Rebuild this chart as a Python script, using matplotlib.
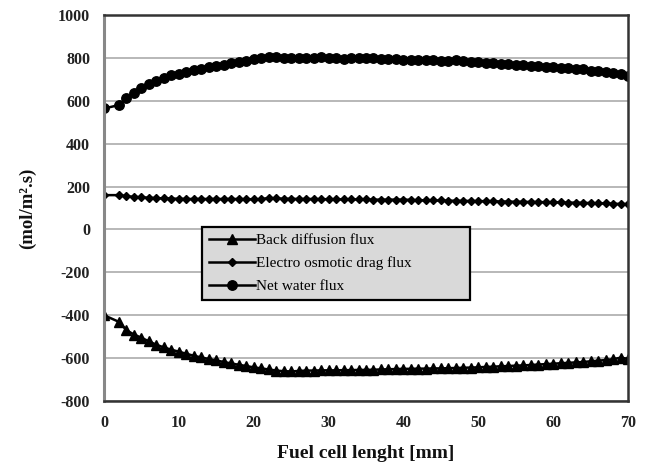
import matplotlib
matplotlib.use("Agg")
import matplotlib.pyplot as plt
from matplotlib.ticker import FixedLocator

plt.rcParams['axes.unicode_minus'] = False

x_mm = [0, 2, 3, 4, 5, 6, 7, 8, 9, 10, 11, 12, 13, 14, 15, 16, 17, 18, 19, 20,
        21, 22, 23, 24, 25, 26, 27, 28, 29, 30, 31, 32, 33, 34, 35, 36, 37, 38, 39, 40,
        41, 42, 43, 44, 45, 46, 47, 48, 49, 50, 51, 52, 53, 54, 55, 56, 57, 58, 59, 60,
        61, 62, 63, 64, 65, 66, 67, 68, 69, 70]

back_diffusion = [-400, -431, -470, -490, -505, -522, -538, -550, -561, -570,
                  -580, -589, -597, -604, -611, -618, -625, -631, -637, -643,
                  -648, -653, -658, -661, -662, -660, -658, -658, -657, -657,
                  -657, -656, -656, -655, -655, -654, -653, -652, -651, -650,
                  -650, -649, -649, -648, -648, -647, -646, -645, -644, -643,
                  -641, -640, -638, -637, -635, -634, -632, -630, -628, -626,
                  -624, -622, -620, -618, -615, -612, -609, -605, -598, -603]

electro_osmotic = [160, 160, 155, 152, 150, 148, 146, 145, 144, 143,
                   142, 142, 142, 142, 142, 142, 142, 142, 141, 141,
                   141, 147, 145, 143, 143, 142, 142, 142, 141, 141,
                   141, 140, 140, 140, 140, 139, 139, 139, 139, 139,
                   138, 136, 136, 135, 135, 134, 134, 133, 133, 132,
                   132, 132, 130, 130, 129, 129, 128, 128, 127, 127,
                   126, 125, 125, 124, 123, 122, 121, 120, 119, 118]

net_water = [564, 580, 612, 636, 660, 676, 690, 706, 718, 727,
             734, 742, 750, 756, 763, 768, 774, 779, 784, 793,
             801, 806, 803, 800, 800, 800, 800, 801, 802, 801,
             798, 797, 798, 799, 799, 798, 795, 794, 793, 792,
             791, 789, 788, 788, 787, 786, 788, 785, 782, 780,
             778, 776, 773, 771, 768, 766, 764, 761, 758, 757,
             754, 752, 750, 746, 741, 738, 734, 730, 724, 717]

y_ticks = [-800, -600, -400, -200, 0, 200, 400, 600, 800, 1000]
x_ticks = [0, 10, 20, 30, 40, 50, 60, 70]

serif = ['Liberation Serif', 'DejaVu Serif']

fig = plt.figure(figsize=(6.47, 4.70), dpi=100)
ax = fig.add_axes([104/647, 1-401/470, 524/647, 386/470])

ax.plot(x_mm, back_diffusion, color='black', lw=1.8, marker='^', ms=6.5,
        label='Back diffusion flux')
ax.plot(x_mm, electro_osmotic, color='black', lw=1.8, marker='D', ms=4,
        label='Electro osmotic drag flux')
ax.plot(x_mm, net_water, color='black', lw=1.8, marker='o', ms=6.8,
        label='Net water flux')

ax.set_xlim(0, 70)
ax.set_ylim(-800, 1000)
ax.yaxis.set_major_locator(FixedLocator(y_ticks))
ax.xaxis.set_major_locator(FixedLocator(x_ticks))
ax.set_yticklabels([str(v) for v in y_ticks])
ax.set_xticklabels([str(v) for v in x_ticks])
ax.grid(axis='y', color='#b8b8b8', lw=1.4)
ax.set_axisbelow(True)
ax.tick_params(length=0, pad=10)
for lab in ax.get_xticklabels() + ax.get_yticklabels():
    lab.set_family(serif)
    lab.set_fontweight('bold')
    lab.set_fontsize(11.5)
    lab.set_color('#222222')
for s in ax.spines.values():
    s.set_color('#333333')
    s.set_linewidth(1.8)
ax.spines['left'].set_color('#888888')
ax.spines['left'].set_linewidth(2.2)

ax.set_xlabel('Fuel cell lenght [mm]', family=serif, fontweight='bold',
              fontsize=14, labelpad=10, color='#111111')
ax.set_ylabel('(mol/m².s)', family=serif, fontweight='bold',
              fontsize=13.5, labelpad=16, color='#111111')

leg = ax.legend(loc='upper left', bbox_to_anchor=(0.187, 0.218, 0.511, 0.2336),
                mode='expand', prop={'family': serif, 'size': 11},
                frameon=True, fancybox=False, framealpha=1, handlelength=3.0,
                borderpad=0.45, labelspacing=0.6, handletextpad=0.1,
                borderaxespad=0)
leg.get_frame().set_facecolor('#d9d9d9')
leg.get_frame().set_edgecolor('black')
leg.get_frame().set_linewidth(1.6)

fig.savefig('out.png', dpi=100)
